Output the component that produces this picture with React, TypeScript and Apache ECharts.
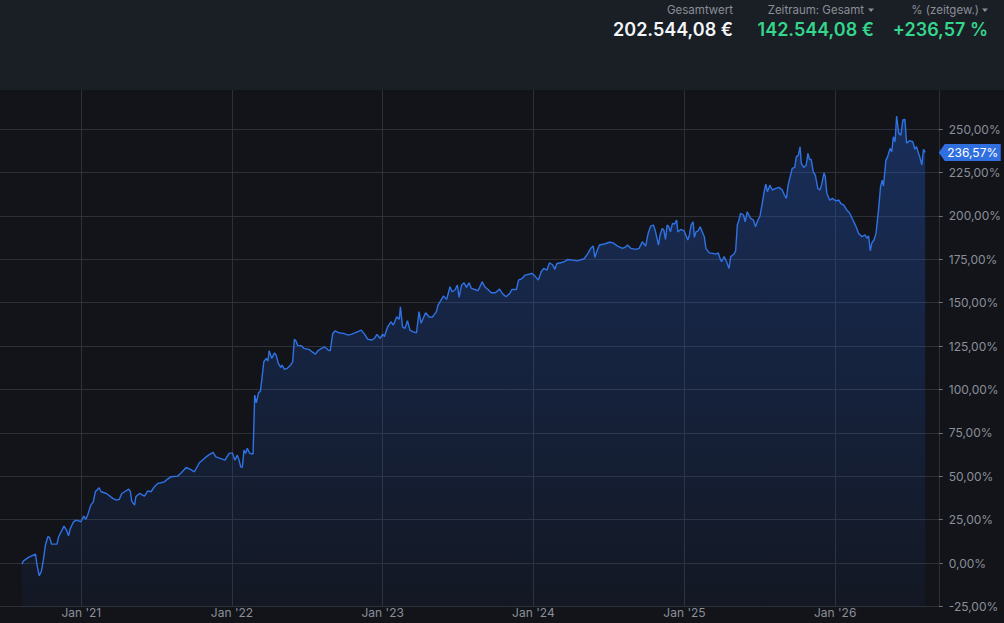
import React, { useEffect, useRef } from "react";
import * as echarts from "echarts";

// ---- data (performance in %, time-weighted) ----
const dates2020 = ["08-10","08-14","08-26","09-12","09-15","09-21","09-26","10-01","10-06","10-12","10-16","10-21","11-03","11-07","11-20","11-26","12-01","12-05","12-13","12-20","12-31"];
const values2020 = [-0.6,1.3,3.3,5.2,-0.2,-7.3,-5.0,1.7,10.4,15.2,14.8,10.9,10.9,15.2,21.3,19.0,15.7,19.6,23.8,24.8,23.8];

const dates2021 = ["01-07","01-12","01-17","01-24","01-30","02-04","02-13","02-18","03-03","03-18","03-27","04-03","04-09","04-26","04-30","05-03","05-10","05-13","05-22","06-03","06-11","06-19","06-27","07-05","07-13","07-21","07-29","08-06","08-22","08-30","09-12","09-22","10-02","10-14","10-26","11-05","11-16","11-23","12-15","12-25"];
const values2021 = [27.1,25.2,28.2,33.4,35.3,41.1,43.4,41.1,40.1,37.3,36.3,36.7,40.1,42.6,41.1,35.7,33.4,38.2,40.1,38.6,41.6,41.1,44.0,45.9,46.3,46.8,48.4,49.7,50.1,51.7,55.1,54.0,52.6,57.8,60.3,62.2,63.8,61.2,59.3,63.2];

const dates2022 = ["01-02","01-08","01-14","01-18","01-22","01-26","01-30","02-03","02-07","02-13","02-21","02-25","03-01","03-06","03-11","03-15","03-19","03-25","03-29","04-01","04-07","04-14","04-18","04-23","04-29","05-02","05-08","05-15","05-23","05-28","06-01","06-05","06-09","06-18","06-24","07-06","07-14","07-22","07-28","08-06","08-13","08-22","08-27","09-02","09-08","09-16","09-28","10-10","10-18","10-27","11-10","11-18","11-26","12-06","12-12","12-18","12-26"];
const values2022 = [63.5,59.3,62.2,59.3,55.5,55.1,65.1,63.2,66.1,63.2,62.8,96.8,92.3,97.8,99.3,107.3,116.0,117.9,116.4,122.3,117.9,121.1,119.8,115.0,112.7,114.1,111.6,112.2,114.1,116.0,128.9,127.9,125.4,125.2,123.7,123.1,121.7,120.4,122.3,123.7,124.6,122.7,122.3,132.3,133.8,132.7,132.3,131.3,131.9,132.7,134.2,131.9,128.9,128.5,129.4,131.7,129.4];

const dates2023 = ["01-01","01-05","01-13","01-21","01-27","02-04","02-10","02-13","02-18","02-24","03-02","03-08","03-16","03-24","03-30","04-04","04-15","04-23","05-01","05-11","05-15","05-28","06-05","06-13","06-18","06-25","07-01","07-05","07-11","07-17","07-23","07-29","08-04","08-12","08-20","08-30","09-05","09-13","09-21","10-01","10-11","10-19","10-27","11-05","11-10","11-21","11-26","12-04","12-12","12-23","12-28"];
const values2023 = [131.9,130.4,136.1,139.0,137.1,141.9,140.4,147.6,136.1,135.2,139.6,134.2,133.2,132.7,144.8,138.1,144.2,141.9,141.5,144.8,148.6,153.8,151.9,159.2,156.3,157.3,160.1,153.0,160.1,161.5,158.8,161.5,158.2,157.6,156.9,162.1,159.2,157.6,155.7,155.7,157.8,154.9,153.4,155.4,157.6,157.6,163.0,163.8,165.9,166.5,166.9];

const dates2024 = ["01-05","01-13","01-20","01-26","02-03","02-09","02-17","02-22","02-27","03-08","03-16","03-24","04-05","04-17","05-03","05-11","05-19","05-25","05-29","06-04","06-09","06-21","07-03","07-11","07-23","08-04","08-12","08-16","08-24","09-05","09-13","09-21","09-29","10-05","10-11","10-18","10-23","10-30","11-03","11-08","11-12","11-16","11-20","11-24","11-28","12-03","12-08","12-13","12-16","12-23","12-31"];
const values2024 = [165.3,163.0,167.8,169.7,168.8,173.0,171.7,169.2,172.6,173.0,173.6,174.9,174.5,174.1,175.3,178.0,181.3,182.6,176.1,180.3,183.2,183.8,184.8,184.6,182.6,181.3,182.2,183.2,181.3,180.7,181.3,185.1,182.6,189.9,194.1,194.7,190.8,183.2,189.0,192.8,191.8,186.5,194.7,193.7,190.8,195.7,195.3,197.6,190.8,192.2,191.4];

const dates2025 = ["01-09","01-13","01-17","01-22","01-25","01-29","02-03","02-08","02-14","02-18","02-22","03-02","03-10","03-18","03-24","03-28","04-01","04-07","04-13","04-19","04-23","05-01","05-05","05-09","05-13","05-17","05-24","05-28","06-02","06-10","06-17","06-22","06-28","07-03","07-09","07-13","07-17","07-21","07-27","08-02","08-10","08-18","08-26","08-31","09-05","09-09","09-13","09-19","09-25","09-29","10-04","10-08","10-11","10-17","10-23","10-27","10-31","11-04","11-09","11-14","11-20","11-25","11-29","12-05","12-08","12-12","12-19","12-25"];
const values2025 = [186.1,189.0,194.7,196.6,187.6,190.8,191.4,193.7,190.3,188.0,181.3,178.7,178.4,178.0,178.7,175.5,173.6,176.5,173.6,169.7,176.5,178.0,179.9,194.7,197.6,201.5,200.5,196.6,202.4,198.6,197.6,193.7,197.6,199.9,208.1,213.9,218.3,213.9,217.7,214.9,215.8,216.4,214.9,212.0,210.1,217.7,221.6,227.3,227.9,234.0,235.0,239.8,230.2,227.9,229.3,236.0,232.5,232.5,225.4,223.5,215.8,214.9,217.7,224.8,222.5,212.9,209.0,210.1];

const dates2026 = ["01-02","01-10","01-15","01-22","01-28","02-05","02-11","02-19","02-27","03-07","03-15","03-19","03-23","03-27","03-31","04-05","04-10","04-16","04-21","04-25","04-28","05-04","05-08","05-14","05-18","05-22","05-26","05-30","06-04","06-09","06-14","06-19","06-23","06-30","07-08","07-13","07-17","07-22","07-25","07-30","08-03","08-07"];
const values2026 = [208.7,209.0,207.1,206.2,203.7,201.7,198.6,194.7,189.9,188.0,189.0,187.1,188.4,179.9,184.5,186.1,189.9,203.3,216.8,220.6,217.2,232.1,234.0,238.9,236.9,245.6,242.7,257.5,247.5,246.5,255.2,255.6,241.8,243.3,242.7,238.4,239.9,236.0,234.0,229.3,238.4,236.57];

const yearBlocks = [
  { year: 2020, dates: dates2020, values: values2020 },
  { year: 2021, dates: dates2021, values: values2021 },
  { year: 2022, dates: dates2022, values: values2022 },
  { year: 2023, dates: dates2023, values: values2023 },
  { year: 2024, dates: dates2024, values: values2024 },
  { year: 2025, dates: dates2025, values: values2025 },
  { year: 2026, dates: dates2026, values: values2026 },
];

const xStart = "2020-06-18";
const xEnd = "2026-09-09";
const yearTickDates = ["2021-01-01", "2022-01-01", "2023-01-01", "2024-01-01", "2025-01-01", "2026-01-01"];
const yMin = -25;
const yMax = 272.5;
const yStep = 25;
const currentValue = 236.57;

const headerLabels = ["Gesamtwert", "Zeitraum: Gesamt", "% (zeitgew.)"];
const headerValues = ["202.544,08 €", "142.544,08 €", "+236,57 %"];

// ---- helpers ----
const ts = (s: string) => {
  const [y, m, d] = s.split("-").map(Number);
  return Date.UTC(y, m - 1, d);
};
const pct = (v: number) => v.toFixed(2).replace(".", ",") + "%";

const seriesData: [number, number][] = [];
yearBlocks.forEach((b) => {
  const n = Math.min(b.dates.length, b.values.length);
  for (let i = 0; i < n; i++) seriesData.push([ts(`${b.year}-${b.dates[i]}`), b.values[i]]);
});

const BG = "#12141a";
const HEADER_BG = "#1a1e25";
const GRID = "#2c3038";
const MUTED = "#8a8f98";
const GREEN = "#34d58c";
const BLUE = "#2f72e4";
const FONT = "Inter, 'Noto Sans', sans-serif";

export default function App() {
  const ref = useRef<HTMLDivElement>(null);

  useEffect(() => {
    if (!ref.current) return;
    const chart = echarts.init(ref.current, undefined, { renderer: "svg" });
    const xMinTs = ts(xStart);
    const xMaxTs = ts(xEnd);
    const yearTicks = yearTickDates.map(ts);

    const option: any = {
      animation: false,
      backgroundColor: BG,
      textStyle: { fontFamily: FONT },
      grid: { left: 0, right: 62, top: 90, bottom: 16.5, containLabel: false },
      xAxis: {
        type: "value",
        min: xMinTs,
        max: xMaxTs,
        axisLine: { show: false },
        axisTick: {
          show: true,
          inside: false,
          length: 17,
          lineStyle: { color: GRID },
          customValues: [...yearTicks, xMaxTs],
        },
        splitLine: { show: true, lineStyle: { color: GRID, width: 1 } },
        axisLabel: {
          customValues: yearTicks,
          color: MUTED,
          fontSize: 12,
          fontFamily: FONT,
          margin: 0,
          formatter: (v: number) => "Jan '" + String(new Date(v).getUTCFullYear()).slice(2),
        },
      },
      yAxis: {
        type: "value",
        position: "right",
        min: yMin,
        max: yMax,
        interval: yStep,
        axisLine: { show: true, lineStyle: { color: GRID } },
        axisTick: { show: true, length: 4, lineStyle: { color: "#6a6f78" } },
        splitLine: { show: true, showMaxLine: false, lineStyle: { color: GRID } },
        axisLabel: {
          color: MUTED,
          fontSize: 12,
          fontFamily: FONT,
          margin: 10,
          showMaxLabel: false,
          formatter: (v: number) => (Math.abs(v % yStep) < 1e-6 ? pct(v) : ""),
        },
      },
      graphic: [
        { type: "rect", left: 0, top: 0, shape: { width: 1004, height: 90 }, style: { fill: HEADER_BG }, z: 10 },
        { type: "text", x: 733, y: 10, style: { text: headerLabels[0], align: "right", verticalAlign: "middle", fill: MUTED, font: `11.5px ${FONT}` }, z: 11 },
        { type: "text", x: 864, y: 10, style: { text: headerLabels[1], align: "right", verticalAlign: "middle", fill: MUTED, font: `11.5px ${FONT}` }, z: 11 },
        { type: "polygon", shape: { points: [[868, 8.5], [874, 8.5], [871, 12]] }, style: { fill: MUTED }, z: 11 },
        { type: "text", x: 979, y: 10, style: { text: headerLabels[2], align: "right", verticalAlign: "middle", fill: MUTED, font: `11.5px ${FONT}` }, z: 11 },
        { type: "polygon", shape: { points: [[982, 8.5], [988, 8.5], [985, 12]] }, style: { fill: MUTED }, z: 11 },
        { type: "text", x: 733, y: 29.5, style: { text: headerValues[0], align: "right", verticalAlign: "middle", fill: "#f3f5f8", font: `600 18px ${FONT}` }, z: 11 },
        { type: "text", x: 874, y: 29.5, style: { text: headerValues[1], align: "right", verticalAlign: "middle", fill: GREEN, font: `600 18px ${FONT}` }, z: 11 },
        { type: "text", x: 988, y: 29.5, style: { text: headerValues[2], align: "right", verticalAlign: "middle", fill: GREEN, font: `600 18px ${FONT}` }, z: 11 },
      ],
      series: [
        {
          type: "line",
          data: seriesData,
          showSymbol: false,
          symbol: "none",
          lineStyle: { color: BLUE, width: 1.4 },
          areaStyle: {
            origin: "start",
            color: new echarts.graphic.LinearGradient(0, 0, 0, 1, [
              { offset: 0, color: "rgba(37,95,210,0.5)" },
              { offset: 1, color: "rgba(37,95,210,0.07)" },
            ]),
          },
          markPoint: {
            silent: true,
            symbol: "path://M0,8.5L6,0H62V17H6Z",
            symbolSize: [62, 17],
            symbolKeepAspect: false,
            symbolOffset: [31, 0],
            itemStyle: { color: "#2f6fdf" },
            label: {
              show: true,
              position: "inside",
              offset: [3, 0],
              color: "#ffffff",
              fontSize: 12,
              fontFamily: FONT,
              formatter: () => pct(currentValue),
            },
            data: [{ coord: [xMaxTs, currentValue], value: currentValue }],
          },
        },
      ],
    };
    chart.setOption(option);
    return () => chart.dispose();
  }, []);

  return (
    <div
      ref={ref}
      style={{ position: "fixed", left: 0, top: 0, width: 1004, height: 623 }}
    />
  );
}
